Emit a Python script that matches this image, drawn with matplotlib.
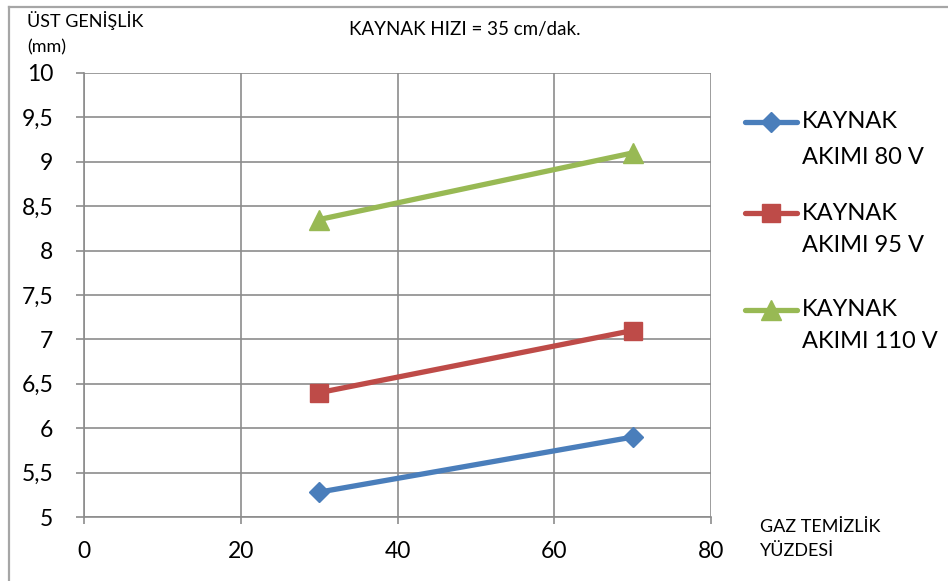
import matplotlib
matplotlib.use("Agg")
import matplotlib.pyplot as plt
from matplotlib.lines import Line2D
from matplotlib.ticker import FuncFormatter

plt.rcParams['font.family'] = ['Lato', 'DejaVu Sans']

gas_purity = [30, 70]
akim_80 = [5.28, 5.9]
akim_95 = [6.4, 7.1]
akim_110 = [8.35, 9.1]
series_names = ["KAYNAK\nAKIMI 80 V", "KAYNAK\nAKIMI 95 V", "KAYNAK\nAKIMI 110 V"]
title = "KAYNAK HIZI = 35 cm/dak."
ylabel = ["ÜST GENİŞLİK", "(mm)"]
xlabel = ["GAZ TEMİZLİK", "YÜZDESİ"]

W, H = 948, 581
fig = plt.figure(figsize=(W/100, H/100), dpi=100)
fig.patch.set_facecolor('white')
border_c = '#a6a6a6'
fig.add_artist(Line2D([8.5/W, 8.5/W], [0, 1-6.5/H], transform=fig.transFigure,
                      color=border_c, linewidth=1.6))
fig.add_artist(Line2D([8.5/W, 1], [1-6.5/H, 1-6.5/H], transform=fig.transFigure,
                      color=border_c, linewidth=1.6))

ax = fig.add_axes([84/W, 1-517/H, (711-84)/W, (517-73)/H])
grid_c = '#8c8c8c'
styles = [
    ('#4a7ebb', 'D', 10.5),
    ('#be4b48', 's', 13),
    ('#98b954', '^', 14),
]
for vals, (c, m, ms) in zip([akim_80, akim_95, akim_110], styles):
    ax.plot(gas_purity, vals, color=c, marker=m, markersize=ms, linewidth=3.8,
            solid_capstyle='round', zorder=3, clip_on=False)

ax.set_xlim(0, 80)
ax.set_ylim(5, 10)
ax.set_xticks([0, 20, 40, 60, 80])
ax.set_yticks([5 + 0.5*i for i in range(11)])
ax.yaxis.set_major_formatter(FuncFormatter(lambda v, p: (f"{v:g}").replace('.', ',')))
ax.grid(True, color=grid_c, linewidth=1.2)
ax.set_axisbelow(True)
for s in ['top', 'right']:
    ax.spines[s].set_visible(False)
for s in ['left', 'bottom']:
    ax.spines[s].set_color(grid_c)
    ax.spines[s].set_linewidth(1.2)
ax.tick_params(axis='both', colors=grid_c, labelcolor='black', labelsize=16.5, width=1.2)
ax.tick_params(axis='y', length=6, pad=16)
ax.tick_params(axis='x', length=5, pad=12)

fig.text(465/W, 1-30/H, title, ha='center', va='center', fontsize=13.5)
fig.text(27/W, 1-20/H, ylabel[0], ha='left', va='center', fontsize=13)
fig.text(27/W, 1-47/H, ylabel[1], ha='left', va='center', fontsize=13)
fig.text(760/W, 1-527/H, xlabel[0], ha='left', va='center', fontsize=13)
fig.text(760/W, 1-551/H, xlabel[1], ha='left', va='center', fontsize=13)

leg_y = [122, 213, 310]
leg_gap = [35, 33, 31]
for name, (c, m, ms), y, g in zip(series_names, styles, leg_y, leg_gap):
    fig.add_artist(Line2D([745/W, 797/W], [1-y/H, 1-y/H], transform=fig.transFigure,
                          color=c, linewidth=3.8, solid_capstyle='round'))
    fig.add_artist(Line2D([771/W], [1-y/H], transform=fig.transFigure, color=c,
                          marker=m, markersize=ms, linestyle='none'))
    l1, l2 = name.split('\n')
    fig.text(802/W, 1-y/H, l1, ha='left', va='center', fontsize=17)
    fig.text(802/W, 1-(y+g)/H, l2, ha='left', va='center', fontsize=17)

fig.savefig('out.png', dpi=100)
